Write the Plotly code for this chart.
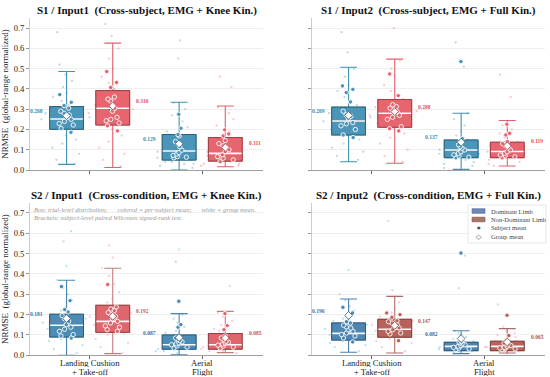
import plotly.graph_objects as go

# ---------------- data ----------------
TITLES = [
    "S1 / Input1  (Cross-subject, EMG + Knee Kin.)",
    "S1 / Input2  (Cross-subject, EMG + Full Kin.)",
    "S2 / Input1  (Cross-condition, EMG + Knee Kin.)",
    "S2 / Input2  (Cross-condition, EMG + Full Kin.)",
]
CATEGORIES = ["Landing Cushion<br>+ Take-off", "Aerial<br>Flight"]
LIMBS = ["Dominant Limb", "Non-Dominant Limb"]
MARK_LEGEND = ["Subject mean", "Group mean"]
Y_TICKS = [0.0, 0.1, 0.2, 0.3, 0.4, 0.5, 0.6, 0.7]
Y_TICK_TEXT = ["0.0", "0.1", "0.2", "0.3", "0.4", "0.5", "0.6", "0.7"]

# box statistics per panel: [[dom_landing, dom_aerial], [nondom_landing, nondom_aerial]]
LOWER = [
    [[0.028, 0.000], [0.012, 0.016]],
    [[0.041, 0.003], [0.033, 0.020]],
    [[0.000, 0.003], [0.008, 0.013]],
    [[0.015, 0.008], [0.011, 0.011]],
]
Q1 = [
    [[0.201, 0.049], [0.222, 0.044]],
    [[0.173, 0.061], [0.211, 0.061]],
    [[0.090, 0.030], [0.113, 0.030]],
    [[0.075, 0.023], [0.089, 0.023]],
]
MEDIAN = [
    [[0.252, 0.094], [0.305, 0.082]],
    [[0.242, 0.099], [0.280, 0.091]],
    [[0.148, 0.052], [0.167, 0.052]],
    [[0.108, 0.044], [0.128, 0.044]],
]
Q3 = [
    [[0.313, 0.175], [0.392, 0.160]],
    [[0.310, 0.148], [0.348, 0.137]],
    [[0.202, 0.100], [0.246, 0.107]],
    [[0.159, 0.064], [0.177, 0.069]],
]
UPPER = [
    [[0.486, 0.334], [0.626, 0.316]],
    [[0.507, 0.280], [0.547, 0.244]],
    [[0.369, 0.205], [0.428, 0.216]],
    [[0.277, 0.121], [0.290, 0.131]],
]
GROUP_MEAN = [
    [[0.268, 0.129], [0.316, 0.111]],
    [[0.269, 0.137], [0.288, 0.119]],
    [[0.181, 0.087], [0.192, 0.085]],
    [[0.196, 0.082], [0.147, 0.065]],
]

# per-subject means: [[dom_landing, dom_aerial], [nondom_landing, nondom_aerial]]
SUBJ_S1_IN1 = [
    [[0.372, 0.334, 0.318, 0.305, 0.29, 0.28, 0.272, 0.26, 0.25, 0.24, 0.229, 0.222, 0.205, 0.186],
     [0.275, 0.206, 0.175, 0.168, 0.14, 0.13, 0.115, 0.098, 0.086, 0.079, 0.072, 0.066, 0.063, 0.06]],
    [[0.486, 0.432, 0.407, 0.35, 0.341, 0.36, 0.305, 0.29, 0.26, 0.25, 0.243, 0.232, 0.218, 0.193],
     [0.198, 0.178, 0.168, 0.145, 0.13, 0.119, 0.112, 0.1, 0.091, 0.075, 0.066, 0.058, 0.05, 0.041]],
]
SUBJ_S1_IN2 = [
    [[0.415, 0.398, 0.382, 0.336, 0.29, 0.272, 0.265, 0.255, 0.234, 0.228, 0.218, 0.2, 0.173, 0.16],
     [0.535, 0.155, 0.143, 0.135, 0.125, 0.115, 0.107, 0.099, 0.09, 0.082, 0.075, 0.069, 0.063, 0.06]],
    [[0.474, 0.367, 0.322, 0.313, 0.305, 0.295, 0.288, 0.28, 0.27, 0.25, 0.214, 0.204, 0.193, 0.26],
     [0.226, 0.181, 0.173, 0.14, 0.13, 0.119, 0.11, 0.1, 0.09, 0.082, 0.074, 0.07, 0.065, 0.06]],
]
SUBJ_S2_IN1 = [
    [[0.338, 0.269, 0.225, 0.213, 0.195, 0.18, 0.167, 0.151, 0.138, 0.128, 0.118, 0.102, 0.095, 0.085],
     [0.266, 0.151, 0.138, 0.09, 0.085, 0.078, 0.072, 0.066, 0.061, 0.056, 0.052, 0.046, 0.04, 0.035]],
    [[0.348, 0.238, 0.228, 0.22, 0.21, 0.2, 0.192, 0.18, 0.167, 0.159, 0.145, 0.138, 0.126, 0.118],
     [0.205, 0.146, 0.126, 0.095, 0.085, 0.078, 0.069, 0.064, 0.061, 0.055, 0.05, 0.045, 0.04, 0.035]],
]
SUBJ_S2_IN2 = [
    [[0.236, 0.208, 0.165, 0.159, 0.148, 0.14, 0.134, 0.126, 0.118, 0.11, 0.102, 0.095, 0.085, 0.066],
     [0.503, 0.08, 0.075, 0.069, 0.065, 0.061, 0.056, 0.052, 0.048, 0.044, 0.039, 0.035, 0.031, 0.028]],
    [[0.208, 0.2, 0.187, 0.17, 0.165, 0.159, 0.15, 0.143, 0.135, 0.126, 0.118, 0.11, 0.105, 0.072],
     [0.197, 0.097, 0.07, 0.066, 0.06, 0.056, 0.052, 0.048, 0.044, 0.039, 0.036, 0.033, 0.031, 0.028]],
]

# trial-level values (faint cloud), same layout
TRIALS_S1_IN1 = [
    [[0.68, 0.52, 0.47, 0.44, 0.41, 0.38, 0.36, 0.34, 0.32, 0.31, 0.30, 0.29, 0.28, 0.27, 0.26, 0.25, 0.25, 0.24,
      0.23, 0.22, 0.21, 0.20, 0.19, 0.17, 0.15, 0.13, 0.11, 0.08, 0.05, 0.03],
     [0.64, 0.55, 0.33, 0.30, 0.27, 0.24, 0.21, 0.19, 0.17, 0.16, 0.14, 0.13, 0.12, 0.11, 0.10, 0.09, 0.09, 0.08,
      0.07, 0.07, 0.06, 0.06, 0.05, 0.05, 0.04, 0.04, 0.03, 0.03, 0.02, 0.01]],
    [[0.72, 0.66, 0.60, 0.55, 0.50, 0.46, 0.43, 0.40, 0.38, 0.36, 0.34, 0.32, 0.31, 0.30, 0.29, 0.28, 0.27, 0.26,
      0.25, 0.24, 0.23, 0.22, 0.20, 0.17, 0.14, 0.11, 0.08, 0.05, 0.02],
     [0.46, 0.41, 0.31, 0.28, 0.25, 0.22, 0.19, 0.17, 0.15, 0.14, 0.13, 0.12, 0.11, 0.10, 0.09, 0.08, 0.08, 0.07,
      0.07, 0.06, 0.06, 0.05, 0.05, 0.04, 0.04, 0.03, 0.03, 0.02, 0.02]],
]
TRIALS_S1_IN2 = [
    [[0.68, 0.58, 0.50, 0.46, 0.42, 0.39, 0.36, 0.34, 0.32, 0.30, 0.29, 0.28, 0.27, 0.26, 0.25, 0.24, 0.23, 0.22,
      0.21, 0.20, 0.19, 0.18, 0.17, 0.15, 0.13, 0.11, 0.09, 0.07, 0.05],
     [0.63, 0.51, 0.28, 0.25, 0.22, 0.19, 0.17, 0.15, 0.14, 0.13, 0.12, 0.11, 0.10, 0.10, 0.09, 0.09, 0.08, 0.08,
      0.07, 0.07, 0.06, 0.06, 0.05, 0.04, 0.03, 0.02, 0.01]],
    [[0.70, 0.54, 0.50, 0.46, 0.42, 0.39, 0.37, 0.35, 0.33, 0.32, 0.31, 0.30, 0.29, 0.28, 0.27, 0.26, 0.25, 0.24,
      0.23, 0.22, 0.21, 0.20, 0.18, 0.16, 0.13, 0.10, 0.07, 0.04],
     [0.47, 0.36, 0.24, 0.22, 0.20, 0.18, 0.16, 0.14, 0.13, 0.12, 0.11, 0.10, 0.10, 0.09, 0.09, 0.08, 0.08, 0.07,
      0.07, 0.06, 0.06, 0.05, 0.04, 0.03, 0.02]],
]
TRIALS_S2_IN1 = [
    [[0.61, 0.56, 0.44, 0.37, 0.33, 0.30, 0.27, 0.24, 0.22, 0.20, 0.19, 0.18, 0.17, 0.16, 0.15, 0.15, 0.14, 0.13,
      0.12, 0.11, 0.10, 0.09, 0.08, 0.07, 0.05, 0.03, 0.01],
     [0.52, 0.46, 0.20, 0.18, 0.16, 0.14, 0.12, 0.11, 0.10, 0.09, 0.08, 0.07, 0.06, 0.06, 0.05, 0.05, 0.04, 0.04,
      0.04, 0.03, 0.03, 0.02, 0.02, 0.01]],
    [[0.54, 0.48, 0.43, 0.39, 0.35, 0.31, 0.28, 0.26, 0.24, 0.22, 0.21, 0.20, 0.19, 0.18, 0.17, 0.16, 0.15, 0.14,
      0.13, 0.12, 0.11, 0.10, 0.08, 0.06, 0.04, 0.01],
     [0.34, 0.21, 0.19, 0.17, 0.15, 0.13, 0.12, 0.11, 0.10, 0.09, 0.08, 0.07, 0.06, 0.06, 0.05, 0.05, 0.04, 0.04,
      0.03, 0.03, 0.02, 0.02, 0.01]],
]
TRIALS_S2_IN2 = [
    [[0.42, 0.30, 0.27, 0.24, 0.22, 0.20, 0.18, 0.17, 0.16, 0.15, 0.14, 0.13, 0.12, 0.12, 0.11, 0.10, 0.10, 0.09,
      0.08, 0.08, 0.07, 0.06, 0.05, 0.04, 0.02],
     [0.49, 0.33, 0.12, 0.11, 0.10, 0.09, 0.08, 0.07, 0.06, 0.06, 0.05, 0.05, 0.04, 0.04, 0.04, 0.03, 0.03, 0.03,
      0.02, 0.02, 0.01]],
    [[0.66, 0.32, 0.29, 0.26, 0.23, 0.21, 0.19, 0.18, 0.17, 0.16, 0.15, 0.14, 0.13, 0.13, 0.12, 0.11, 0.10, 0.10,
      0.09, 0.08, 0.07, 0.06, 0.04, 0.02],
     [0.25, 0.14, 0.12, 0.11, 0.10, 0.09, 0.08, 0.07, 0.07, 0.06, 0.05, 0.05, 0.04, 0.04, 0.04, 0.03, 0.03, 0.02,
      0.02, 0.01]],
]
SUBJECTS = [SUBJ_S1_IN1, SUBJ_S1_IN2, SUBJ_S2_IN1, SUBJ_S2_IN2]
TRIALS = [TRIALS_S1_IN1, TRIALS_S1_IN2, TRIALS_S2_IN1, TRIALS_S2_IN2]
NOTE = ("<i>Box: trial-level distribution;      colored = per-subject mean;      white = group mean.<br>"
        "Brackets: subject-level paired Wilcoxon signed-rank test.</i>")

# ---------------- style ----------------
FONT = "Liberation Serif"
FILL = [["#4b95b9", "#e8646f"], ["#4b95b9", "#e8646f"], ["#4a8cb6", "#de666c"], ["#4d86b2", "#b8625b"]]
EDGE = [["#2e6177", "#9c4048"], ["#2e6177", "#9c4048"], ["#2e5c78", "#934046"], ["#34587a", "#7e463e"]]
WHISK = [["#3f93b3", "#e25f6d"], ["#3f93b3", "#e25f6d"], ["#4a86b0", "#c77a78"], ["#4a7fae", "#b06c66"]]
CLOUD = [["#74b3cf", "#ef8f99"], ["#74b3cf", "#ef8f99"], ["#6cc8df", "#f29ab8"], ["#6cc8df", "#f29ab8"]]
LABEL = [["#2f8fb0", "#e0505c"], ["#2f8fb0", "#e0505c"], ["#3a72b0", "#c45a5a"], ["#3a72b0", "#b0564e"]]
LEG_PATCH = [("#6f88bb", "#4d6a9a"), ("#a9766a", "#805448")]
OFFSET = [-0.205, 0.205]
BOX_W = 0.30

W, H = 550, 377
X_DOM = [[30 / W, 263 / W], [312 / W, 545 / W]]
Y_DOM = [[1 - 355.3 / H, 1 - 202.8 / H], [1 - 170 / H, 1 - 18 / H]]
X_RANGE = [-0.53, 1.54]
CAT_LINE_Y = [362.5, 371.5]


def py(px):
    return 1 - px / H


fig = go.Figure()
annotations = []
shapes = []

for p in range(4):
    row, col = p // 2, p % 2
    suffix = "" if p == 0 else str(p + 1)
    xa, ya = "x" + suffix, "y" + suffix
    for li in range(2):
        xs = [c + OFFSET[li] for c in range(2)]
        cx, cy = [], []
        for c in range(2):
            cx += [xs[c]] * len(TRIALS[p][li][c])
            cy += TRIALS[p][li][c]
        fig.add_trace(go.Box(
            x=cx, y=cy, xaxis=xa, yaxis=ya, width=0.46, boxpoints="all", jitter=1, pointpos=0,
            fillcolor="rgba(0,0,0,0)", line=dict(width=0),
            marker=dict(size=2.3, color=CLOUD[p][li], opacity=0.5),
            showlegend=False, hoverinfo="skip"))
    for li in range(2):
        xs = [c + OFFSET[li] for c in range(2)]
        fig.add_trace(go.Box(
            x=xs, q1=Q1[p][li], median=MEDIAN[p][li], q3=Q3[p][li],
            lowerfence=LOWER[p][li], upperfence=UPPER[p][li],
            xaxis=xa, yaxis=ya, width=BOX_W, whiskerwidth=0.5, boxpoints=False,
            fillcolor="rgba(0,0,0,0)", line=dict(color=WHISK[p][li], width=1.1),
            showlegend=False, hoverinfo="skip"))
        fig.add_trace(go.Box(
            x=xs, q1=Q1[p][li], median=MEDIAN[p][li], q3=Q3[p][li],
            lowerfence=Q1[p][li], upperfence=Q3[p][li],
            xaxis=xa, yaxis=ya, width=BOX_W, whiskerwidth=0, boxpoints=False,
            fillcolor=FILL[p][li], line=dict(color=EDGE[p][li], width=1),
            showlegend=False, hoverinfo="skip"))
        fig.add_trace(go.Box(
            x=xs, q1=MEDIAN[p][li], median=MEDIAN[p][li], q3=MEDIAN[p][li],
            lowerfence=MEDIAN[p][li], upperfence=MEDIAN[p][li],
            xaxis=xa, yaxis=ya, width=BOX_W * 0.97, whiskerwidth=0, boxpoints=False,
            fillcolor="rgba(0,0,0,0)", line=dict(color="white", width=1.6),
            showlegend=False, hoverinfo="skip"))
    for li in range(2):
        xs = [c + OFFSET[li] for c in range(2)]
        sx, sy = [], []
        for c in range(2):
            sx += [xs[c]] * len(SUBJECTS[p][li][c])
            sy += SUBJECTS[p][li][c]
        fig.add_trace(go.Box(
            x=sx, y=sy, xaxis=xa, yaxis=ya, width=0.2, boxpoints="all", jitter=0.8, pointpos=0,
            fillcolor="rgba(0,0,0,0)", line=dict(width=0),
            marker=dict(size=4.4, color=FILL[p][li], line=dict(color="white", width=0.9)),
            showlegend=False, hoverinfo="skip"))
        fig.add_trace(go.Scatter(
            x=xs, y=GROUP_MEAN[p][li], xaxis=xa, yaxis=ya, mode="markers",
            marker=dict(symbol="diamond", size=6, color="white", line=dict(color=EDGE[p][li], width=0.8)),
            showlegend=False, hoverinfo="skip"))
        for c in range(2):
            annotations.append(dict(
                x=xs[c] + (-0.19 if li == 0 else 0.19), y=GROUP_MEAN[p][li][c] + 0.024,
                xref=xa, yref=ya, text="<b>%.3f</b>" % GROUP_MEAN[p][li][c], showarrow=False,
                xanchor="right" if li == 0 else "left", yanchor="middle",
                font=dict(family=FONT, size=5.5, color=LABEL[p][li])))
    if row == 1:
        for c in range(2):
            for k, line in enumerate(CATEGORIES[c].split("<br>")):
                annotations.append(dict(
                    x=c, y=py(CAT_LINE_Y[k]), xref=xa, yref="paper", text=line,
                    showarrow=False, xanchor="center", yanchor="middle", height=9,
                    font=dict(family=FONT, size=8.6, color="#222")))
    annotations.append(dict(
        x=(X_DOM[col][0] + X_DOM[col][1]) / 2, y=py(10) if row == 0 else py(195),
        xref="paper", yref="paper", text="<b>%s</b>" % TITLES[p], showarrow=False,
        xanchor="center", yanchor="middle", font=dict(family=FONT, size=11, color="#111")))

annotations.append(dict(
    x=32 / W, y=py(204), xref="paper", yref="paper", text=NOTE, showarrow=False,
    xanchor="left", yanchor="top", align="left", font=dict(family=FONT, size=6.5, color="#999")))

# legend panel (bottom-right)
shapes.append(dict(type="rect", xref="paper", yref="paper", x0=468 / W, x1=546 / W, y0=py(243), y1=py(205),
                   line=dict(color="#dddddd", width=0.7), fillcolor="rgba(255,255,255,0.92)", layer="above"))
leg_rows = [211, 219.5, 228, 236.5]
for i, name in enumerate(LIMBS):
    shapes.append(dict(type="rect", xref="paper", yref="paper", x0=472 / W, x1=485 / W,
                       y0=py(leg_rows[i] + 2.3), y1=py(leg_rows[i] - 2.3),
                       line=dict(color=LEG_PATCH[i][1], width=0.6), fillcolor=LEG_PATCH[i][0], layer="above"))
glyphs = ["\u25CF", "\u25C7"]
gsize = [4, 7]
for i, name in enumerate(MARK_LEGEND):
    annotations.append(dict(x=478.5 / W, y=py(leg_rows[2 + i]), xref="paper", yref="paper", text=glyphs[i],
                            showarrow=False, xanchor="center", yanchor="middle",
                            font=dict(family="DejaVu Sans", size=gsize[i], color="#555")))
for i, name in enumerate(LIMBS + MARK_LEGEND):
    annotations.append(dict(x=489 / W, y=py(leg_rows[i]), xref="paper", yref="paper", text=name,
                            showarrow=False, xanchor="left", yanchor="middle",
                            font=dict(family=FONT, size=6.5, color="#444")))

layout = dict(
    width=W, height=H, margin=dict(l=0, r=0, t=0, b=0),
    paper_bgcolor="white", plot_bgcolor="white", boxmode="overlay", showlegend=False,
    font=dict(family=FONT, size=8.5, color="#222"),
    annotations=annotations, shapes=shapes,
)
for p in range(4):
    row, col = p // 2, p % 2
    suffix = "" if p == 0 else str(p + 1)
    layout["xaxis" + suffix] = dict(
        domain=X_DOM[col], range=X_RANGE, anchor="y" + suffix, automargin=False,
        tickvals=[0, 1], showticklabels=False,
        ticks="outside", ticklen=2.5, tickcolor="#666", showline=True, linecolor="#a0a0a0",
        showgrid=False, zeroline=False)
    layout["yaxis" + suffix] = dict(
        domain=Y_DOM[1 - row], range=[0, 0.75], anchor="x" + suffix, automargin=False,
        tickvals=Y_TICKS, ticktext=Y_TICK_TEXT, showticklabels=(col == 0),
        ticks="outside", ticklen=3, tickcolor="#999", showline=True, linecolor="#cccccc",
        showgrid=True, gridcolor="#eeeeee", gridwidth=0.8, zeroline=False,
        tickfont=dict(family=FONT, size=8.5, color="#222"),
        title=dict(text="NRMSE  (global-range normalized)" if col == 0 else "",
                   font=dict(family=FONT, size=9, color="#222"), standoff=4))
fig.update_layout(**layout)
fig.write_html("out.html", config={"displayModeBar": False},
               post_script="document.body.style.margin='0';document.body.style.padding='0';")
